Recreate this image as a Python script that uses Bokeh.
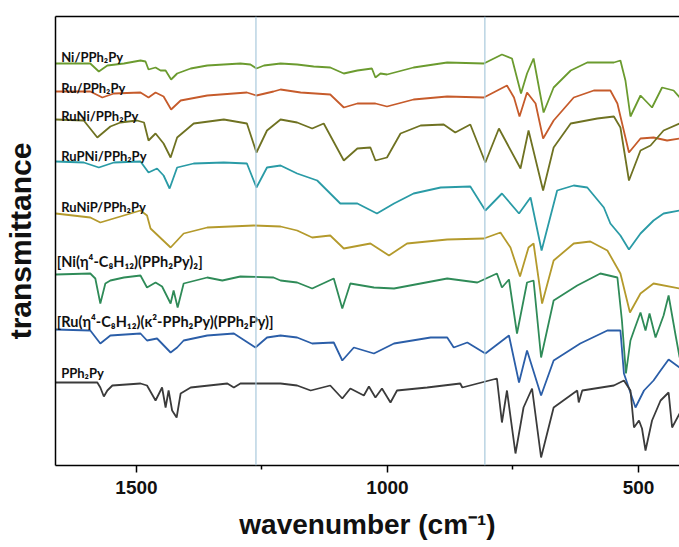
from bokeh.plotting import figure
from bokeh.models import Range1d, FixedTicker, LinearAxis, Span
from bokeh.core.properties import value
from bokeh.embed import file_html
from bokeh.resources import INLINE

# ---- data (wavenumber in cm-1, transmittance in arbitrary offset units) ----
wn_ni = [1661, 1592, 1575, 1558, 1525, 1492, 1482, 1476, 1462, 1452, 1442, 1431, 1419, 1392, 1359, 1293, 1273, 1261, 1246, 1213,
         1180, 1147, 1114, 1087, 1060, 1031, 1024, 1014, 1001, 948, 881, 808, 772, 752, 734, 722, 709, 689, 669, 635, 602, 549,
         536, 526, 516, 496, 473, 453, 430, 418]
tr_ni = [402, 402, 394, 400, 402, 405, 404, 396, 398, 395, 395, 386, 392, 397, 400, 402, 401, 397, 400, 402,
         401, 399, 398, 392, 395, 397, 388, 392, 391, 398, 403, 402, 411, 407, 372, 392, 407, 353, 378, 395, 403, 403,
         405, 385, 349, 370, 358, 378, 375, 368]

wn_ru = [1661, 1592, 1568, 1545, 1492, 1476, 1462, 1446, 1431, 1412, 1359, 1280, 1261, 1227, 1213, 1173, 1114, 1087, 1060,
         1024, 1001, 948, 881, 808, 762, 748, 737, 722, 705, 690, 669, 629, 589, 556, 542, 519, 496, 470, 443, 418]
tr_ru = [374, 374, 368, 372, 373, 368, 373, 369, 356, 365, 370, 373, 370, 374, 376, 373, 371, 358, 362,
         362, 359, 366, 369, 368, 380, 368, 349, 373, 362, 327, 345, 368, 375, 375, 362, 313, 327, 328, 325, 327]

wn_runi = [1661, 1605, 1578, 1552, 1532, 1499, 1485, 1476, 1462, 1446, 1432, 1419, 1386, 1326, 1280, 1261, 1240, 1213,
           1180, 1150, 1127, 1087, 1060, 1034, 1024, 1001, 974, 934, 888, 865, 835, 805, 778, 735, 719, 690, 669, 635,
           582, 549, 536, 519, 496, 476, 450, 418]
tr_runi = [346, 345, 328, 339, 343, 345, 343, 325, 332, 322, 308, 328, 342, 346, 342, 313, 335, 346,
           343, 337, 342, 305, 317, 318, 305, 308, 332, 340, 341, 333, 341, 303, 337, 297, 335, 275, 318, 342,
           347, 349, 338, 285, 315, 320, 335, 342]

wn_rupni = [1661, 1605, 1575, 1545, 1492, 1476, 1459, 1446, 1434, 1419, 1386, 1326, 1280, 1261, 1240, 1213, 1180, 1140,
            1094, 1060, 1021, 987, 948, 894, 835, 805, 772, 738, 715, 693, 662, 629, 602, 569, 556, 536, 519, 496, 470,
            450, 418]
tr_rupni = [304, 303, 298, 303, 304, 293, 297, 290, 277, 298, 302, 303, 302, 278, 298, 300, 292, 285,
            262, 262, 252, 262, 272, 278, 279, 255, 272, 252, 268, 215, 275, 280, 278, 258, 242, 230, 216, 232, 245,
            252, 255]

wn_runip = [1661, 1592, 1572, 1492, 1479, 1472, 1432, 1406, 1359, 1266, 1213, 1180, 1150, 1114, 1087, 1034, 997, 961,
            881, 808, 775, 755, 736, 719, 709, 692, 669, 629, 596, 562, 536, 517, 496, 470, 418]
tr_runip = [252, 248, 243, 255, 250, 237, 218, 232, 238, 240, 239, 235, 228, 230, 217, 222, 210, 222,
            226, 227, 233, 218, 189, 218, 222, 162, 205, 222, 224, 215, 192, 153, 172, 182, 177]

wn_nicod = [1661, 1592, 1582, 1572, 1562, 1552, 1525, 1492, 1479, 1462, 1449, 1432, 1426, 1418, 1406, 1359, 1329, 1293,
            1227, 1213, 1180, 1150, 1107, 1090, 1074, 1027, 987, 934, 881, 821, 782, 772, 758, 742, 722, 709, 694, 669,
            622, 576, 542, 533, 525, 516, 509, 496, 486, 478, 466, 450, 440, 426, 418]
tr_nicod = [191, 192, 187, 162, 182, 185, 188, 190, 178, 183, 179, 162, 175, 158, 182, 188, 185, 189,
            188, 185, 183, 177, 187, 157, 182, 178, 177, 182, 187, 183, 192, 178, 186, 132, 183, 185, 108, 165,
            180, 192, 188, 145, 92, 125, 135, 153, 135, 152, 128, 150, 170, 130, 108]

wn_rucod = [1661, 1592, 1572, 1552, 1492, 1479, 1459, 1432, 1419, 1406, 1359, 1306, 1263, 1240, 1213, 1180, 1150, 1107,
            1090, 1067, 1027, 987, 914, 881, 868, 841, 805, 758, 738, 722, 694, 669, 616, 562, 536, 529, 506, 489, 470,
            456, 440, 418]
tr_rucod = [136, 135, 122, 130, 132, 125, 127, 113, 118, 125, 130, 132, 118, 128, 130, 128, 122, 123,
            105, 118, 112, 122, 128, 128, 118, 123, 112, 130, 83, 115, 70, 105, 122, 135, 135, 92, 58, 75, 85,
            95, 106, 98]

wn_pph = [1661, 1578, 1572, 1565, 1558, 1548, 1492, 1479, 1462, 1449, 1442, 1436, 1429, 1420, 1412, 1392, 1319, 1306,
          1293, 1213, 1180, 1153, 1114, 1090, 1074, 1047, 1037, 1024, 1011, 994, 981, 921, 855, 851, 782, 772, 762, 745,
          729, 712, 694, 669, 622, 619, 612, 549, 529, 516, 509, 499, 493, 486, 473, 456, 440, 433, 418]
tr_pph = [83, 83, 78, 69, 75, 80, 82, 80, 65, 78, 58, 75, 55, 48, 72, 78, 82, 78,
          82, 82, 80, 75, 80, 67, 77, 70, 79, 68, 77, 63, 75, 78, 82, 78, 87, 43, 75, 12,
          58, 77, 8, 58, 75, 63, 75, 80, 85, 75, 38, 45, 37, 15, 45, 65, 73, 38, 52]

series = [
    ("Ni/PPh₂Py", wn_ni, tr_ni, "#6b9b2f"),
    ("Ru/PPh₂Py", wn_ru, tr_ru, "#c65b2b"),
    ("RuNi/PPh₂Py", wn_runi, tr_runi, "#6f7222"),
    ("RuPNi/PPh₂Py", wn_rupni, tr_rupni, "#2a9ba6"),
    ("RuNiP/PPh₂Py", wn_runip, tr_runip, "#b49a2c"),
    ("[Ni(η⁴-C₈H₁₂)(PPh₂Py)₂]", wn_nicod, tr_nicod, "#2f8b58"),
    ("[Ru(η⁴-C₈H₁₂)(κ²-PPh₂Py)(PPh₂Py)]", wn_rucod, tr_rucod, "#2b5ea8"),
    ("PPh₂Py", wn_pph, tr_pph, "#3b3b3b"),
]
label_wn = [1650, 1650, 1650, 1650, 1650, 1659, 1659, 1650]
label_tr = [409, 378, 350, 310, 259, 204, 144, 93]
label_size = ["13px", "13px", "13px", "13px", "13px", "14.5px", "14.5px", "13px"]
marker_lines = [1262, 806]
major_ticks = [1500, 1000, 500]
minor_ticks = [1250, 750]

p = figure(width=679, height=547, output_backend="svg", toolbar_location=None,
           x_range=Range1d(1661.3, 418.3), y_range=Range1d(0, 449),
           min_border_left=55, min_border_right=0, min_border_top=16, min_border_bottom=82)
p.background_fill_color = "white"
p.border_fill_color = "white"
p.outline_line_color = None
p.grid.visible = False

for ml in marker_lines:
    p.add_layout(Span(location=ml, dimension="height", line_color="#a9c9dc", line_width=1.2))

for (name, wn, tr, col), lx, ly, fs in zip(series, label_wn, label_tr, label_size):
    p.line(wn, tr, line_color=col, line_width=1.8)
    p.text(x=[lx], y=[ly], text=[name], text_font=value("Lato"), text_font_style="bold",
           text_font_size=fs, text_color="#111111", text_baseline="alphabetic", text_align="left")

xa = p.xaxis[0]
xa.ticker = FixedTicker(ticks=major_ticks, minor_ticks=minor_ticks)
xa.axis_line_color = "black"
xa.axis_line_width = 1.5
xa.major_tick_line_color = "black"
xa.major_tick_line_width = 1.5
xa.major_tick_in = 0
xa.major_tick_out = 7
xa.minor_tick_line_color = "black"
xa.minor_tick_line_width = 1.5
xa.minor_tick_in = 0
xa.minor_tick_out = 4
xa.major_label_standoff = 8
xa.major_label_text_font = "Liberation Sans"
xa.major_label_text_font_style = "bold"
xa.major_label_text_font_size = "19px"
xa.major_label_text_color = "#111111"
xa.axis_label = "wavenumber (cm⁻¹)"
xa.axis_label_standoff = 12
xa.axis_label_text_font = "Liberation Sans"
xa.axis_label_text_font_style = "bold"
xa.axis_label_text_font_size = "28px"
xa.axis_label_text_color = "#111111"

ya = p.yaxis[0]
ya.ticker = FixedTicker(ticks=[])
ya.axis_line_color = "black"
ya.axis_line_width = 1.5
ya.major_tick_line_color = None
ya.minor_tick_line_color = None
ya.major_label_text_font_size = "0px"
ya.major_label_standoff = 0
ya.axis_label = "transmittance"
ya.axis_label_standoff = 19
ya.axis_label_text_font = "Liberation Sans"
ya.axis_label_text_font_style = "bold"
ya.axis_label_text_font_size = "30px"
ya.axis_label_text_color = "#111111"

top = LinearAxis(ticker=FixedTicker(ticks=[]), major_tick_line_color=None, minor_tick_line_color=None,
                 major_label_text_font_size="0px", major_label_standoff=0, axis_line_color="black",
                 axis_line_width=1.5)
p.add_layout(top, "above")

open("out.html", "w").write(file_html(p, INLINE))
